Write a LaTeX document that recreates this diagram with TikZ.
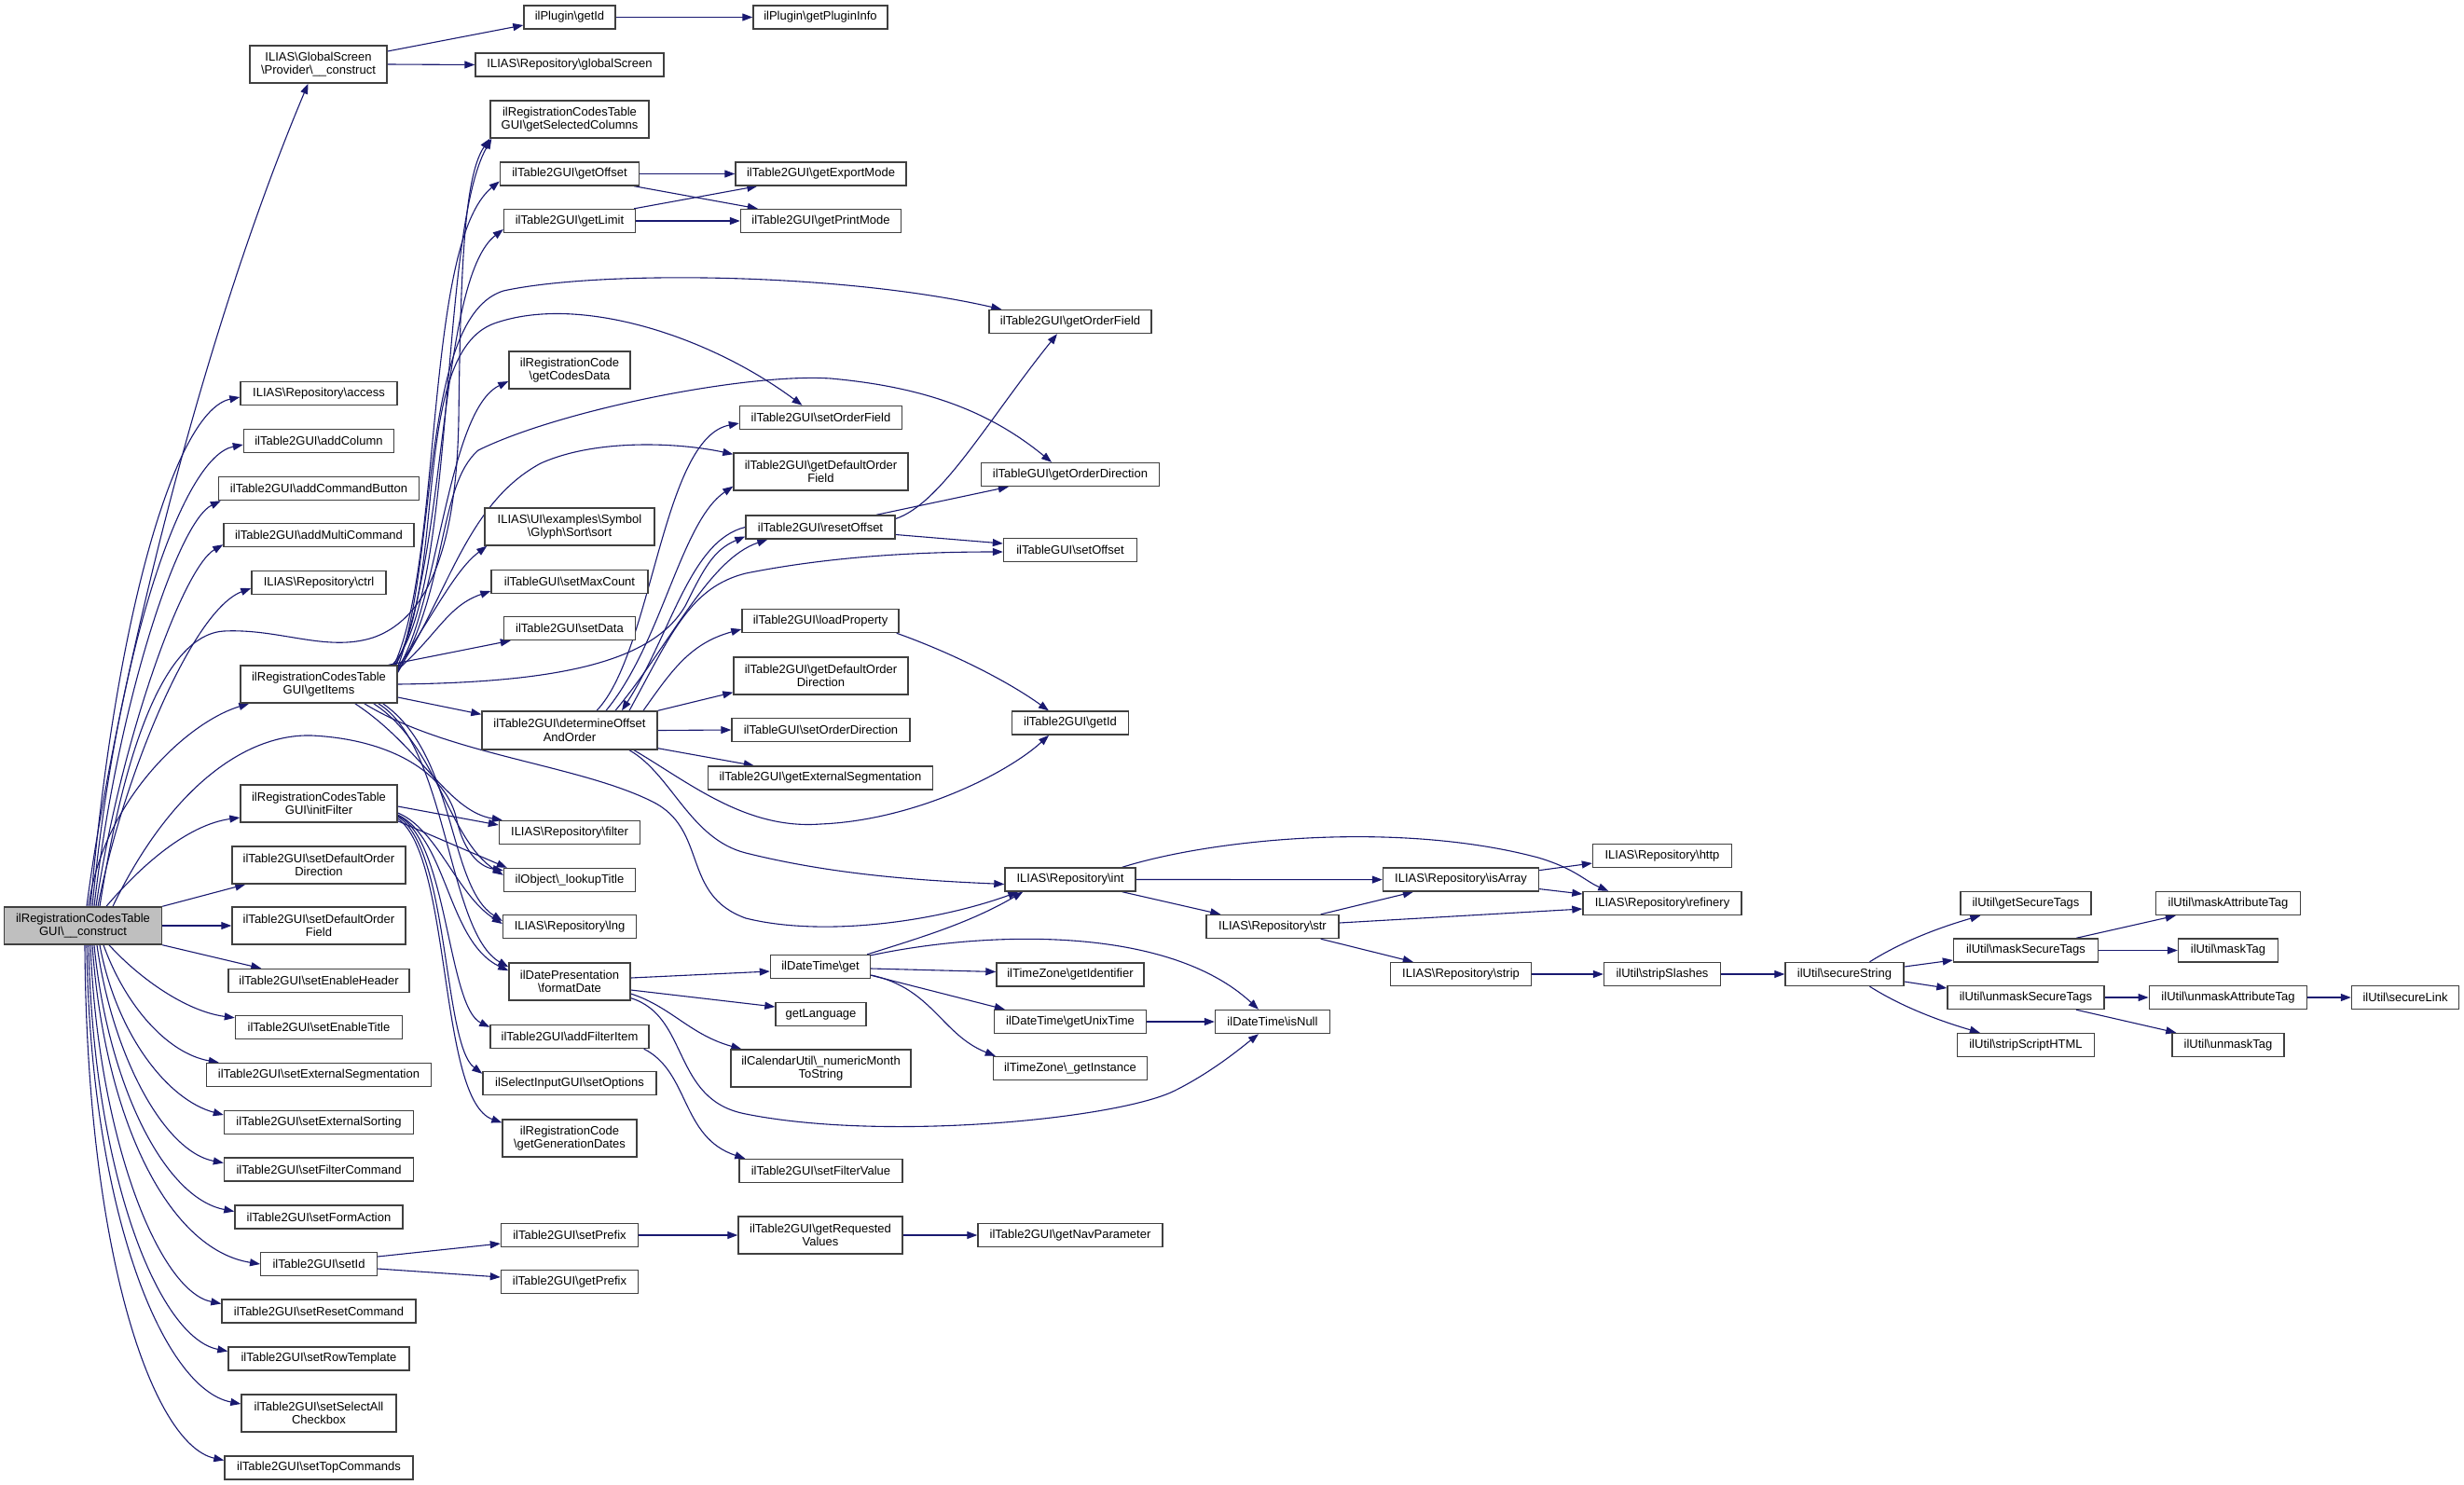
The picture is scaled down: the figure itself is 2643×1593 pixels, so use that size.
\documentclass[tikz,border=0pt]{standalone}
\usepackage{fontspec}
\setmainfont{Liberation Sans}
\usetikzlibrary{arrows.meta,calc}
\definecolor{edgec}{RGB}{25,25,112}
\definecolor{rootc}{RGB}{191,191,191}
\definecolor{boxc}{RGB}{64,64,64}
\newcommand{\bsl}{\textbackslash{}}
\pgfdeclarelayer{bg}
\pgfsetlayers{bg,main}
\begin{document}
\begin{tikzpicture}[x=1pt,y=1pt,
 box/.style={draw=boxc,line width=1.4pt,fill=white,inner xsep=2pt,inner ysep=0pt,align=center,font=\fontsize{13}{14.5}\selectfont,minimum height=25pt},
 tall/.style={minimum height=40pt},
 ed/.style={draw=edgec,line width=1.1pt,-{Triangle[length=11pt,width=8pt]}}]
\useasboundingbox (0,0) rectangle (2643,-1593);

% column 0
\node[box,tall,minimum width=169pt,fill=rootc] (R) at (89,-993) {ilRegistrationCodesTable\\GUI\bsl\_\_construct};
% column 1
\node[box,tall,minimum width=147pt] (GSP) at (341.5,-69) {ILIAS\bsl GlobalScreen\\\bsl Provider\bsl\_\_construct};
\node[box,minimum width=168pt] (access) at (342,-422) {ILIAS\bsl Repository\bsl access};
\node[box,minimum width=161pt] (addcol) at (342,-473) {ilTable2GUI\bsl addColumn};
\node[box,minimum width=215pt] (addcmd) at (342,-524) {ilTable2GUI\bsl addCommandButton};
\node[box,minimum width=204pt] (addmulti) at (342,-574) {ilTable2GUI\bsl addMultiCommand};
\node[box,minimum width=144pt] (ctrl) at (342,-625) {ILIAS\bsl Repository\bsl ctrl};
\node[box,tall,minimum width=168pt] (getitems) at (342,-734) {ilRegistrationCodesTable\\GUI\bsl getItems};
\node[box,tall,minimum width=168pt] (initf) at (342,-862) {ilRegistrationCodesTable\\GUI\bsl initFilter};
\node[box,tall,minimum width=186pt] (sdod) at (342,-928) {ilTable2GUI\bsl setDefaultOrder\\Direction};
\node[box,tall,minimum width=186pt] (sdof) at (342,-993) {ilTable2GUI\bsl setDefaultOrder\\Field};
\node[box,minimum width=194pt] (seh) at (342,-1052) {ilTable2GUI\bsl setEnableHeader};
\node[box,minimum width=179pt] (set) at (342,-1102) {ilTable2GUI\bsl setEnableTitle};
\node[box,minimum width=241pt] (sextseg) at (342,-1153) {ilTable2GUI\bsl setExternalSegmentation};
\node[box,minimum width=203pt] (sextsort) at (342,-1204) {ilTable2GUI\bsl setExternalSorting};
\node[box,minimum width=203pt] (sfc) at (342,-1254.5) {ilTable2GUI\bsl setFilterCommand};
\node[box,minimum width=180pt] (sfa) at (342,-1305.5) {ilTable2GUI\bsl setFormAction};
\node[box,minimum width=124.5pt] (setid) at (342,-1356) {ilTable2GUI\bsl setId};
\node[box,minimum width=208pt] (src) at (342,-1406.5) {ilTable2GUI\bsl setResetCommand};
\node[box,minimum width=194pt] (srt) at (342,-1457.5) {ilTable2GUI\bsl setRowTemplate};
\node[box,tall,minimum width=166pt] (ssac) at (342,-1516) {ilTable2GUI\bsl setSelectAll\\Checkbox};
\node[box,minimum width=202pt] (stc) at (342,-1574.5) {ilTable2GUI\bsl setTopCommands};
% column 2
\node[box,minimum width=98pt] (pgid) at (611,-18.5) {ilPlugin\bsl getId};
\node[box,minimum width=202pt] (gscr) at (611,-69.5) {ILIAS\bsl Repository\bsl globalScreen};
\node[box,tall,minimum width=170pt] (gselcol) at (611,-128) {ilRegistrationCodesTable\\GUI\bsl getSelectedColumns};
\node[box,minimum width=149pt] (goff) at (611,-186.5) {ilTable2GUI\bsl getOffset};
\node[box,minimum width=141pt] (glim) at (611,-237) {ilTable2GUI\bsl getLimit};
\node[box,tall,minimum width=130pt] (gcodes) at (611,-397) {ilRegistrationCode\\\bsl getCodesData};
\node[box,tall,minimum width=182pt] (sortn) at (611,-565) {ILIAS\bsl UI\bsl examples\bsl Symbol\\\bsl Glyph\bsl Sort\bsl sort};
\node[box,minimum width=168pt] (setmax) at (611,-624) {ilTableGUI\bsl setMaxCount};
\node[box,minimum width=141pt] (setdata) at (611,-674) {ilTable2GUI\bsl setData};
\node[box,minimum width=188pt,minimum height=41pt] (detoff) at (611,-783.5) {ilTable2GUI\bsl determineOffset\\AndOrder};
\node[box,minimum width=151pt] (filter) at (611,-893) {ILIAS\bsl Repository\bsl filter};
\node[box,minimum width=141pt] (lookup) at (611,-944) {ilObject\bsl\_lookupTitle};
\node[box,minimum width=143pt] (lng) at (611,-994) {ILIAS\bsl Repository\bsl lng};
\node[box,tall,minimum width=130pt] (fdate) at (611,-1053) {ilDatePresentation\\\bsl formatDate};
\node[box,minimum width=170pt] (addfi) at (611,-1112) {ilTable2GUI\bsl addFilterItem};
\node[box,minimum width=186pt] (setopt) at (611,-1162) {ilSelectInputGUI\bsl setOptions};
\node[box,tall,minimum width=144pt] (ggendates) at (611,-1221) {ilRegistrationCode\\\bsl getGenerationDates};
\node[box,minimum width=147pt] (setpre) at (611,-1325) {ilTable2GUI\bsl setPrefix};
\node[box,minimum width=147pt] (getpre) at (611,-1375) {ilTable2GUI\bsl getPrefix};
% column 3
\node[box,minimum width=144pt] (gpinfo) at (880,-18.5) {ilPlugin\bsl getPluginInfo};
\node[box,minimum width=183pt] (gexp) at (880.5,-186.5) {ilTable2GUI\bsl getExportMode};
\node[box,minimum width=172pt] (gprint) at (880.5,-237) {ilTable2GUI\bsl getPrintMode};
\node[box,minimum width=174pt] (setordf) at (880.5,-448) {ilTable2GUI\bsl setOrderField};
\node[box,tall,minimum width=187pt] (gdefordf) at (880.5,-506) {ilTable2GUI\bsl getDefaultOrder\\Field};
\node[box,minimum width=160pt] (resoff) at (880,-565.5) {ilTable2GUI\bsl resetOffset};
\node[box,minimum width=168pt] (loadprop) at (880,-666) {ilTable2GUI\bsl loadProperty};
\node[box,tall,minimum width=187pt] (gdeforddir) at (880.5,-725) {ilTable2GUI\bsl getDefaultOrder\\Direction};
\node[box,minimum width=191pt] (setorddir) at (880.5,-783) {ilTableGUI\bsl setOrderDirection};
\node[box,minimum width=241pt] (gextseg) at (880,-834.5) {ilTable2GUI\bsl getExternalSegmentation};
\node[box,minimum width=107pt] (dtget) at (880,-1037) {ilDateTime\bsl get};
\node[box,minimum width=97pt] (glang) at (880.5,-1088) {getLanguage};
\node[box,tall,minimum width=193pt] (nmts) at (880.5,-1146) {ilCalendarUtil\bsl\_numericMonth\\ToString};
\node[box,minimum width=175pt] (sfv) at (880.5,-1256) {ilTable2GUI\bsl setFilterValue};
\node[box,tall,minimum width=176pt] (greq) at (880,-1325) {ilTable2GUI\bsl getRequested\\Values};
% column 4
\node[box,minimum width=174pt] (gordf) at (1148,-345) {ilTable2GUI\bsl getOrderField};
\node[box,minimum width=191pt] (gorddir) at (1148,-509) {ilTableGUI\bsl getOrderDirection};
\node[box,minimum width=143pt] (setoff) at (1148,-590) {ilTableGUI\bsl setOffset};
\node[box,minimum width=124.5pt] (t2getid) at (1148,-775.6) {ilTable2GUI\bsl getId};
\node[box,minimum width=140pt] (intn) at (1148,-943.5) {ILIAS\bsl Repository\bsl int};
\node[box,minimum width=158pt] (gident) at (1148,-1045.5) {ilTimeZone\bsl getIdentifier};
\node[box,minimum width=163pt] (gunix) at (1148,-1096) {ilDateTime\bsl getUnixTime};
\node[box,minimum width=165pt] (ginst) at (1148,-1146) {ilTimeZone\bsl\_getInstance};
\node[box,minimum width=198pt] (gnav) at (1148,-1325) {ilTable2GUI\bsl getNavParameter};
% column 5-11
\node[box,minimum width=142pt] (strn) at (1365,-994) {ILIAS\bsl Repository\bsl str};
\node[box,minimum width=123pt] (isnull) at (1365,-1096) {ilDateTime\bsl isNull};
\node[box,minimum width=167pt] (isarr) at (1567,-943.6) {ILIAS\bsl Repository\bsl isArray};
\node[box,minimum width=151pt] (strip) at (1567,-1045) {ILIAS\bsl Repository\bsl strip};
\node[box,minimum width=149pt] (http) at (1783,-918) {ILIAS\bsl Repository\bsl http};
\node[box,minimum width=170pt] (refin) at (1783,-969) {ILIAS\bsl Repository\bsl refinery};
\node[box,minimum width=125pt] (strsl) at (1783,-1045) {ilUtil\bsl stripSlashes};
\node[box,minimum width=127pt] (secstr) at (1978.5,-1045) {ilUtil\bsl secureString};
\node[box,minimum width=140pt] (gsect) at (2173,-969) {ilUtil\bsl getSecureTags};
\node[box,minimum width=155pt] (masksec) at (2173,-1019.5) {ilUtil\bsl maskSecureTags};
\node[box,minimum width=168pt] (unmasksec) at (2173,-1070) {ilUtil\bsl unmaskSecureTags};
\node[box,minimum width=147pt] (stripscr) at (2173,-1121) {ilUtil\bsl stripScriptHTML};
\node[box,minimum width=155pt] (maskattr) at (2390,-969) {ilUtil\bsl maskAttributeTag};
\node[box,minimum width=107pt] (masktag) at (2390,-1019.5) {ilUtil\bsl maskTag};
\node[box,minimum width=169.5pt] (unmaskattr) at (2390,-1070) {ilUtil\bsl unmaskAttributeTag};
\node[box,minimum width=120pt] (unmasktag) at (2390,-1121) {ilUtil\bsl unmaskTag};
\node[box,minimum width=115pt] (seclink) at (2580,-1070) {ilUtil\bsl secureLink};

\begin{pgfonlayer}{bg}
\fill[white] (0,0) rectangle (2643,-1593);
% root edges
\draw[ed] ($(R.north)+(4,0)$) .. controls (115,-800) and (200,-400) .. ($(GSP.south)+(-11,0)$);
\draw[ed] ($(R.north)+(8,0)$) .. controls (125,-650) and (190,-440) .. ($(access.west)+(0,-4)$);
\draw[ed] ($(R.north)+(10,0)$) .. controls (125,-700) and (195,-490) .. ($(addcol.west)+(0,-4)$);
\draw[ed] ($(R.north)+(12,0)$) .. controls (125,-760) and (190,-560) .. ($(addcmd.south west)+(3,0)$);
\draw[ed] ($(R.north)+(14,0)$) .. controls (128,-800) and (195,-610) .. ($(addmulti.south west)+(0,3)$);
\draw[ed] ($(R.north)+(16,0)$) .. controls (130,-840) and (205,-655) .. ($(ctrl.west)+(0,-6)$);
\draw[ed] ($(R.north)+(18,0)$) .. controls (140,-760) and (190,-680) .. (240,-677) .. controls (300,-674) and (350,-700) .. (400,-684) .. controls (470,-660) and (490,-560) .. (492,-450) .. controls (494,-300) and (497,-190) .. (gselcol.south west);
\draw[ed] ($(R.north)+(6,0)$) .. controls (110,-860) and (200,-775) .. ($(getitems.south west)+(10,0)$);
\draw[ed] ($(R.north)+(25,0)$) .. controls (150,-930) and (200,-885) .. ($(initf.west)+(0,-15)$);
\draw[ed] ($(R.north)+(32,0)$) .. controls (180,-850) and (260,-787) .. (334,-789) .. controls (420,-793) and (480,-830) .. (490,-880) .. controls (498,-915) and (515,-930) .. ($(lookup.north west)+(0,-3)$);
\draw[ed] (R.north east) -- ($(sdod.south west)+(15,0)$);
\draw[ed] (R.east) -- (sdof.west);
\draw[ed] (R.south east) -- ($(seh.north west)+(36,0)$);
\draw[ed] ($(R.south)+(28,0)$) .. controls (150,-1050) and (200,-1085) .. ($(set.north west)+(0,-3)$);
\draw[ed] ($(R.south)+(22,0)$) .. controls (135,-1080) and (180,-1130) .. ($(sextseg.north west)+(14,0)$);
\draw[ed] ($(R.south)+(18,0)$) .. controls (125,-1110) and (180,-1180) .. ($(sextsort.west)+(0,8)$);
\draw[ed] ($(R.south)+(15,0)$) .. controls (120,-1130) and (175,-1235) .. ($(sfc.west)+(0,7)$);
\draw[ed] ($(R.south)+(12,0)$) .. controls (115,-1160) and (175,-1285) .. ($(sfa.west)+(0,6)$);
\draw[ed] ($(R.south)+(10,0)$) .. controls (112,-1200) and (180,-1340) .. (setid.west);
\draw[ed] ($(R.south)+(8,0)$) .. controls (105,-1220) and (170,-1385) .. ($(src.west)+(0,8)$);
\draw[ed] ($(R.south)+(6,0)$) .. controls (100,-1260) and (170,-1435) .. ($(srt.west)+(0,8)$);
\draw[ed] ($(R.south)+(4,0)$) .. controls (97,-1300) and (175,-1490) .. ($(ssac.west)+(0,10)$);
\draw[ed] ($(R.south)+(2,0)$) .. controls (93,-1350) and (165,-1550) .. ($(stc.west)+(0,8)$);
% GlobalScreen
\draw[ed] ($(GSP.east)+(0,14)$) -- ($(pgid.west)+(0,-8.5)$);
\draw[ed] (GSP.east) -- (gscr.west);
\draw[ed] (pgid.east) -- (gpinfo.west);
% getItems
\draw[ed] ($(getitems.north east)+(-6,0)$) .. controls (490,-640) and (470,-250) .. ($(gselcol.south west)+(2,0)$);
\draw[ed] ($(getitems.north east)+(-4,0)$) .. controls (475,-600) and (455,-260) .. ($(goff.west)+(0,-8)$);
\draw[ed] ($(getitems.north east)+(-2,0)$) .. controls (480,-600) and (470,-300) .. ($(glim.west)+(0,-9)$);
\draw[ed] ($(getitems.north east)+(0,-2)$) .. controls (470,-600) and (450,-340) .. (540,-312) .. controls (640,-290) and (900,-292) .. ($(gordf.north west)+(14,0)$);
\draw[ed] ($(getitems.north east)+(0,-4)$) .. controls (470,-650) and (480,-440) .. ($(gcodes.west)+(0,-12)$);
\draw[ed] ($(getitems.north east)+(-3,0)$) .. controls (480,-620) and (440,-380) .. (530,-347) .. controls (620,-315) and (760,-360) .. ($(setordf.north)+(-20,0)$);
\draw[ed] ($(getitems.north east)+(0,-6)$) .. controls (480,-640) and (500,-540) .. (580,-497) .. controls (640,-470) and (730,-475) .. ($(gdefordf.north west)+(0,-2)$);
\draw[ed] ($(getitems.north east)+(0,-8)$) .. controls (480,-630) and (470,-520) .. (513,-483) .. controls (600,-440) and (800,-400) .. (891,-406) .. controls (990,-415) and (1060,-440) .. ($(gorddir.north)+(-20,0)$);
\draw[ed] ($(getitems.north east)+(0,-3)$) .. controls (470,-650) and (490,-610) .. ($(sortn.south west)+(3,0)$);
\draw[ed] ($(getitems.north east)+(0,-5)$) .. controls (470,-680) and (480,-650) .. ($(setmax.west)+(0,-10)$);
\draw[ed] ($(getitems.north east)+(-10,0)$) -- ($(setdata.south west)+(8,0)$);
\draw[ed] (getitems.east) .. controls (600,-732) and (700,-710) .. (735,-650) .. controls (755,-610) and (765,-590) .. ($(resoff.west)+(0,-10)$);
\draw[ed] ($(getitems.east)+(0,-14)$) -- ($(detoff.north west)+(0,-4)$);
\draw[ed] ($(getitems.south east)+(-46,0)$) .. controls (450,-800) and (480,-870) .. ($(filter.north west)+(4,0)$);
\draw[ed] ($(getitems.south east)+(-26,0)$) .. controls (470,-800) and (480,-900) .. ($(lookup.north west)+(0,-8)$);
\draw[ed] ($(getitems.south east)+(-16,0)$) .. controls (490,-810) and (480,-950) .. ($(lng.west)+(0,6)$);
\draw[ed] ($(getitems.south east)+(-21,0)$) .. controls (480,-800) and (480,-1000) .. ($(fdate.north west)+(0,-5)$);
\draw[ed] ($(getitems.south east)+(-36,0)$) .. controls (480,-810) and (620,-820) .. (700,-860) .. controls (760,-890) and (730,-960) .. (800,-985) .. controls (880,-1005) and (1000,-990) .. ($(intn.south west)+(15,0)$);
% initFilter
\draw[ed] ($(initf.east)+(0,-3)$) -- ($(filter.west)+(0,8)$);
\draw[ed] ($(initf.south east)+(0,2)$) -- ($(lookup.north west)+(4,0)$);
\draw[ed] ($(initf.east)+(0,-10)$) .. controls (470,-890) and (490,-960) .. ($(lng.west)+(0,3)$);
\draw[ed] ($(initf.east)+(0,-12)$) .. controls (480,-900) and (480,-1010) .. ($(fdate.north west)+(0,-9)$);
\draw[ed] ($(initf.east)+(0,-13)$) .. controls (480,-900) and (480,-1080) .. ($(addfi.north west)+(0,-3)$);
\draw[ed] ($(initf.east)+(0,-14)$) .. controls (482,-910) and (475,-1120) .. ($(setopt.north west)+(0,-3)$);
\draw[ed] ($(initf.east)+(0,-16)$) .. controls (485,-920) and (470,-1180) .. ($(ggendates.north west)+(0,-4)$);
% determineOffsetAndOrder
\draw[ed] ($(detoff.north)+(29,0)$) .. controls (700,-700) and (710,-470) .. ($(setordf.west)+(0,-6)$);
\draw[ed] ($(detoff.north)+(39,0)$) .. controls (710,-690) and (730,-560) .. ($(gdefordf.south west)+(0,5)$);
\draw[ed] ($(detoff.north)+(49,0)$) .. controls (720,-690) and (760,-600) .. ($(resoff.south west)+(24,0)$);
\draw[ed] (resoff.west) .. controls (740,-580) and (720,-680) .. ($(detoff.north)+(56,0)$);
\draw[ed] ($(detoff.north)+(64,0)$) .. controls (720,-680) and (740,-630) .. (800,-615) .. controls (900,-595) and (1000,-592) .. ($(setoff.west)+(0,-2)$);
\draw[ed] ($(detoff.north)+(79,0)$) .. controls (720,-720) and (740,-690) .. ($(loadprop.west)+(0,-9)$);
\draw[ed] (detoff.north east) -- ($(gdeforddir.south west)+(0,3)$);
\draw[ed] (detoff.east) -- (setorddir.west);
\draw[ed] ($(detoff.south east)+(0,2)$) -- ($(gextseg.north west)+(50,0)$);
\draw[ed] ($(detoff.south)+(69,0)$) .. controls (740,-840) and (800,-890) .. (880,-884) .. controls (980,-880) and (1080,-830) .. ($(t2getid.south)+(-23,0)$);
\draw[ed] ($(detoff.south)+(64,0)$) .. controls (720,-830) and (740,-900) .. (800,-915) .. controls (900,-940) and (1000,-945) .. ($(intn.west)+(0,-5)$);
% resetOffset, loadProperty
\draw[ed] ($(resoff.east)+(0,9)$) .. controls (1010,-540) and (1060,-450) .. ($(gordf.south)+(-14,0)$);
\draw[ed] ($(resoff.north)+(60,0)$) -- ($(gorddir.south west)+(30,0)$);
\draw[ed] ($(resoff.east)+(0,-8)$) -- ($(setoff.west)+(0,7)$);
\draw[ed] ($(loadprop.south east)+(-3,0)$) .. controls (1020,-700) and (1080,-730) .. ($(t2getid.north)+(-23,0)$);
% getOffset, getLimit
\draw[ed] (goff.east) -- (gexp.west);
\draw[ed] ($(goff.south east)+(-6,0)$) -- ($(gprint.north west)+(19,0)$);
\draw[ed] ($(glim.north east)+(-2,0)$) -- ($(gexp.south west)+(24,0)$);
\draw[ed] (glim.east) -- (gprint.west);
% int, str, ...
\draw[ed] (intn.east) -- (isarr.west);
\draw[ed] ($(intn.south east)+(-15,0)$) -- ($(strn.north west)+(16,0)$);
\draw[ed] ($(intn.north east)+(-15,0)$) .. controls (1300,-900) and (1500,-880) .. (1650,-920) .. controls (1690,-932) and (1700,-945) .. ($(refin.north west)+(28,0)$);
\draw[ed] ($(isarr.east)+(0,10)$) -- ($(http.west)+(0,-8)$);
\draw[ed] ($(isarr.east)+(0,-10)$) -- ($(refin.west)+(0,10)$);
\draw[ed] ($(strn.north east)+(-20,0)$) -- ($(isarr.south west)+(33,0)$);
\draw[ed] ($(strn.east)+(0,4)$) -- ($(refin.west)+(0,-6)$);
\draw[ed] ($(strn.south east)+(-20,0)$) -- ($(strip.north west)+(25,0)$);
\draw[ed] (strip.east) -- (strsl.west);
\draw[ed] (strsl.east) -- (secstr.west);
\draw[ed] ($(secstr.north)+(27,0)$) .. controls (2040,-1010) and (2080,-995) .. ($(gsect.south west)+(22,0)$);
\draw[ed] ($(secstr.east)+(0,8)$) -- ($(masksec.west)+(0,-10.5)$);
\draw[ed] ($(secstr.east)+(0,-8)$) -- ($(unmasksec.west)+(0,10)$);
\draw[ed] ($(secstr.south)+(27,0)$) .. controls (2040,-1080) and (2080,-1095) .. ($(stripscr.north west)+(25,0)$);
\draw[ed] ($(masksec.north)+(54,0)$) -- ($(maskattr.south west)+(22,0)$);
\draw[ed] (masksec.east) -- (masktag.west);
\draw[ed] (unmasksec.east) -- (unmaskattr.west);
\draw[ed] ($(unmasksec.south)+(54,0)$) -- ($(unmasktag.north west)+(5,0)$);
\draw[ed] (unmaskattr.east) -- (seclink.west);
% formatDate, get
\draw[ed] ($(fdate.east)+(0,4)$) -- ($(dtget.west)+(0,-5)$);
\draw[ed] ($(fdate.east)+(0,-9)$) -- ($(glang.west)+(0,8)$);
\draw[ed] ($(fdate.east)+(0,-13)$) .. controls (720,-1080) and (740,-1110) .. ($(nmts.north west)+(12,0)$);
\draw[ed] ($(fdate.south east)+(0,3)$) .. controls (740,-1090) and (720,-1180) .. (800,-1195) .. controls (950,-1225) and (1200,-1200) .. (1260,-1170) .. controls (1300,-1150) and (1330,-1125) .. ($(isnull.south)+(-15,0)$);
\draw[ed] ($(addfi.south east)+(-6,0)$) .. controls (740,-1150) and (730,-1220) .. ($(sfv.north west)+(7,0)$);
\draw[ed] ($(dtget.north east)+(-4,0)$) .. controls (990,-1005) and (1040,-990) .. ($(intn.south west)+(20,0)$);
\draw[ed] ($(dtget.east)+(0,-2)$) -- ($(gident.west)+(0,3)$);
\draw[ed] ($(dtget.south east)+(0,4)$) -- ($(gunix.north west)+(12,0)$);
\draw[ed] ($(dtget.east)+(0,-9)$) .. controls (1000,-1060) and (1010,-1110) .. ($(ginst.north west)+(3,0)$);
\draw[ed] ($(dtget.north east)+(0,-1)$) .. controls (1050,-1000) and (1250,-990) .. ($(isnull.north)+(-15,0)$);
\draw[ed] (gunix.east) -- (isnull.west);
% setId
\draw[ed] ($(setid.east)+(0,8)$) -- ($(setpre.west)+(0,-9)$);
\draw[ed] ($(setid.east)+(0,-5)$) -- ($(getpre.west)+(0,5)$);
\draw[ed] (setpre.east) -- (greq.west);
\draw[ed] (greq.east) -- (gnav.west);
\end{pgfonlayer}
\end{tikzpicture}
\end{document}
